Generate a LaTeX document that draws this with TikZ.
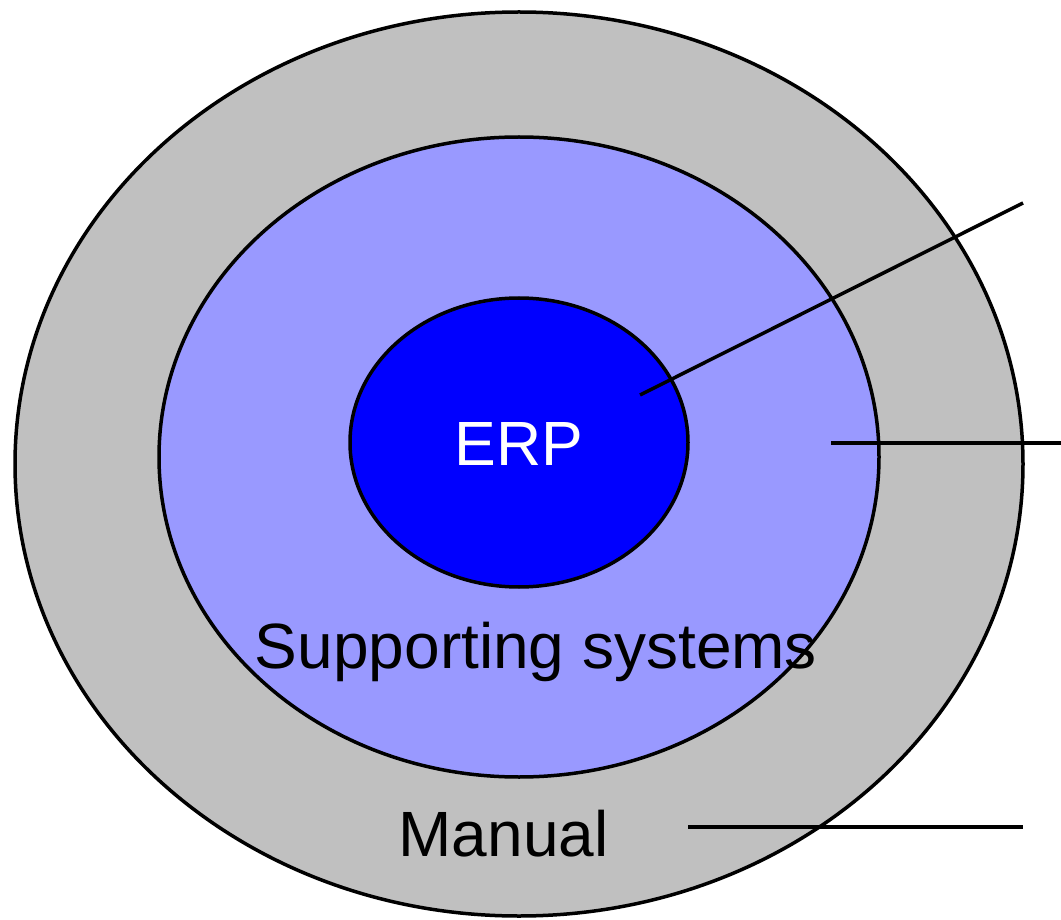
\documentclass[tikz,border=0pt]{standalone}
\usepackage{fontspec}
\setmainfont{Liberation Sans}
\definecolor{outergray}{HTML}{C0C0C0}
\definecolor{midblue}{HTML}{9999FF}
\definecolor{coreblue}{HTML}{0000FF}
\tikzset{
  ring/.style={draw=black, line width=3.5pt},
  leader/.style={draw=black, line width=3.5pt},
  bigtext/.style={inner sep=0pt, anchor=base, font=\fontsize{64}{64}\selectfont},
}
\begin{document}
\begin{tikzpicture}[x=1pt, y=-1pt]
\useasboundingbox (0,0) rectangle (1061,920);
\path[ring, fill=outergray] (519,464) ellipse [x radius=504, y radius=452];
\path[ring, fill=midblue] (519,457) ellipse [x radius=360, y radius=320];
\path[ring, fill=coreblue] (519,442.5) ellipse [x radius=169, y radius=144.5];
\node[bigtext, text=white, font=\fontsize{62.5}{62.5}\selectfont] (erp) at (519,465) {ERP};
\node[bigtext] (supp) at (536,668) {Supporting systems};
\node[bigtext] (manual) at (503.5,856) {Manual};
\coordinate (e1) at (640,395);
\coordinate (e1end) at (1023,203);
\coordinate (s1) at (831,443);
\coordinate (s1end) at (1061,443);
\coordinate (m1) at (688,827);
\coordinate (m1end) at (1023,827);
\draw[leader] (e1) -- (e1end);
\draw[leader] (s1) -- (s1end);
\draw[leader] (m1) -- (m1end);
\end{tikzpicture}
\end{document}
